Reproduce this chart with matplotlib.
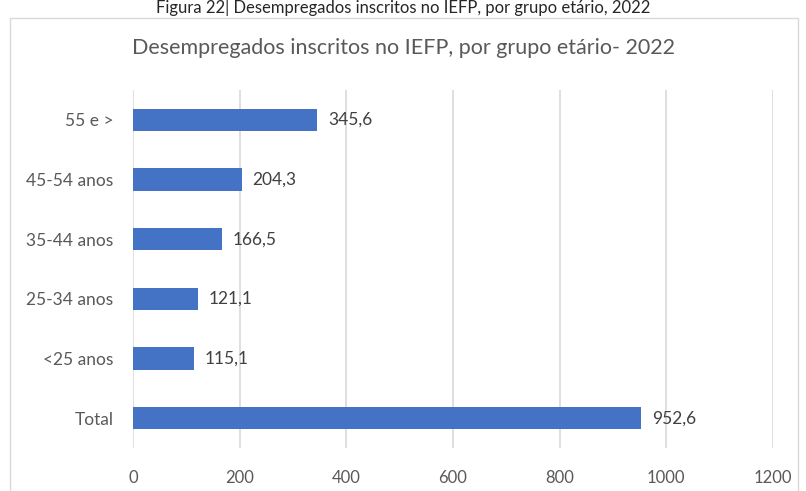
import matplotlib.pyplot as plt
from matplotlib.patches import Rectangle

# dados
grupos = ["55 e >", "45-54 anos", "35-44 anos", "25-34 anos", "<25 anos", "Total"]
valores = [345.6, 204.3, 166.5, 121.1, 115.1, 952.6]
xticks = [0, 200, 400, 600, 800, 1000, 1200]

plt.rcParams['font.family'] = ['Lato', 'DejaVu Sans']

W, H = 806, 491
fig = plt.figure(figsize=(W / 100, H / 100), dpi=100)

# caixa do grafico
fig.patches.append(Rectangle((10 / W, -0.05), 788 / W, 1.05 - 18 / H,
                             transform=fig.transFigure, fill=False,
                             edgecolor='#d9d9d9', linewidth=1))

fig.text(0.5, 1 - 8 / H, "Figura 22| Desempregados inscritos no IEFP, por grupo etário, 2022",
         ha='center', va='center', fontsize=12, color='#262626')
fig.text(0.5, 1 - 48 / H, "Desempregados inscritos no IEFP, por grupo etário- 2022",
         ha='center', va='center', fontsize=15.5, color='#595959')

ax = fig.add_axes([133 / W, 1 - 448 / H, 640 / W, 358 / H])
pos = list(range(len(grupos)))
ax.barh(pos, valores, height=0.37, color='#4472C4', zorder=3)
for p, v in zip(pos, valores):
    ax.text(v + 20, p, f"{v:.1f}".replace('.', ','), va='center', ha='left',
            fontsize=12.5, color='#404040')

ax.set_xlim(0, 1200)
ax.set_ylim(len(grupos) - 0.5, -0.5)
ax.set_xticks(xticks)
ax.set_yticks(pos)
ax.set_yticklabels(grupos)
ax.grid(axis='x', color='#d9d9d9', linewidth=1.2, zorder=0)
for s in ax.spines.values():
    s.set_visible(False)
ax.tick_params(axis='both', length=0, labelcolor='#595959')
ax.tick_params(axis='x', pad=16, labelsize=12)
ax.tick_params(axis='y', pad=14, labelsize=12.5)

fig.savefig("out.png", dpi=100)
